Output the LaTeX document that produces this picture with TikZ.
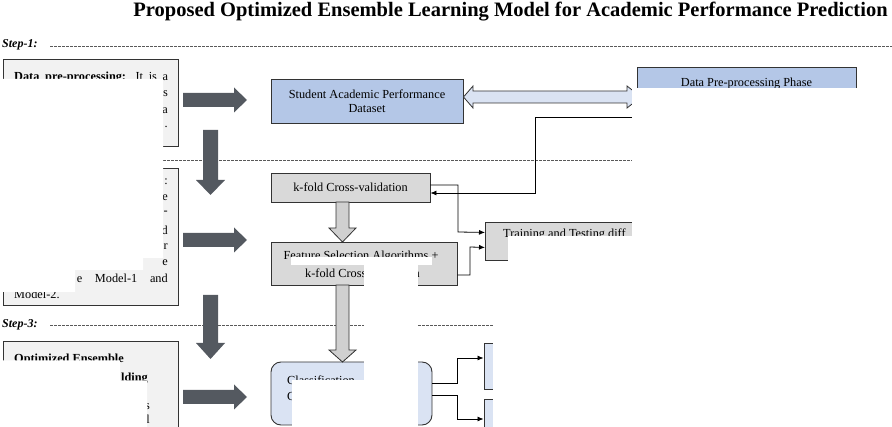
\documentclass[tikz,border=0pt]{standalone}
\usepackage{fontspec}
\setmainfont{Liberation Serif}
\usetikzlibrary{arrows.meta}
\definecolor{darkarr}{HTML}{545960}
\definecolor{lgray}{HTML}{F2F2F2}
\definecolor{mgray}{HTML}{D9D9D9}
\definecolor{agray}{HTML}{D0D0D0}
\definecolor{bluebox}{HTML}{B4C7E7}
\definecolor{lblue}{HTML}{DAE3F3}
\definecolor{edge}{HTML}{333333}
\begin{document}
\begin{tikzpicture}[x=1pt,y=-1pt,
  font=\fontsize{12.3}{14}\selectfont,
  box/.style={draw=edge, line width=0.9pt, inner sep=0pt},
  txt/.style={inner sep=0pt},
  conn/.style={draw=black, line width=0.8pt, -{Latex[length=6pt,width=5pt]}},
  steplbl/.style={font=\fontsize{12}{14}\selectfont\bfseries\itshape, anchor=west, inner sep=0pt},
  sepline/.style={draw=gray!70!black, dash pattern=on 2.5pt off 1.5pt, line width=0.6pt},
  maskfill/.style={fill=white}]
\useasboundingbox (0,0) rectangle (892,427);

% title
\node[txt, font=\fontsize{20.5}{24}\selectfont\bfseries] (title) at (510.5,12) {Proposed Optimized Ensemble Learning Model for Academic Performance Prediction};

% step separators
\node[steplbl] (s1) at (2,45) {Step-1:};
\draw[sepline] (50,46) -- (892,46);
\draw[sepline] (163,160) -- (892,160);
\node[steplbl] (s3) at (2,325) {Step-3:};
\draw[sepline] (50,325) -- (892,325);

% left boxes
\node[box, fill=lgray, minimum width=175, minimum height=87] (bA) at (90.5,102.5) {};
\node[box, fill=lgray, minimum width=175, minimum height=137] (bB) at (90.5,236.5) {};
\node[box, fill=lgray, minimum width=175, minimum height=110, anchor=north west] (bC) at (3,341.5) {};

% right side boxes
\node[box, fill=bluebox, minimum width=192, minimum height=44, align=center] (ds) at (367,101)
  {Student Academic Performance\\Dataset};
\node[box, fill=bluebox, minimum width=219, minimum height=100] (E) at (746.5,117) {};
\node[txt] (Et) at (746.5,83.5) {Data Pre-processing Phase};
\node[box, fill=mgray, minimum width=159, minimum height=29] (kf) at (350.5,187.5) {k-fold Cross-validation};
\node[box, fill=mgray, minimum width=186, minimum height=43] (fs) at (364,263.5) {};
\node[txt] (fs1) at (361,257) {Feature Selection Algorithms +};
\node[txt, anchor=west] (fs2) at (305,273) {k-fold Cross-validation};
\node[box, fill=mgray, minimum width=235, minimum height=38, anchor=north west] (tr) at (485,222) {};
\node[txt, anchor=west] (trt) at (503,234) {Training and Testing diff};
\node[box, fill=lblue, rounded corners=10pt, minimum width=161, minimum height=63] (cl) at (351.5,393.5) {};
\node[txt, anchor=west] (cl1) at (287,380) {Classification};
\node[txt, anchor=west] (cl2) at (287,396) {C};
\node[box, fill=lblue, minimum width=76, minimum height=46] (r1) at (522,366) {};
\node[box, fill=lblue, minimum width=76, minimum height=46] (r2) at (522,422) {};

% dark block arrows
\fill[darkarr] (183,93) -- (234,93) -- (234,87.5) -- (247,100) -- (234,112.5) -- (234,107) -- (183,107) -- cycle;
\fill[darkarr] (183,233) -- (234,233) -- (234,227.5) -- (247,240) -- (234,252.5) -- (234,247) -- (183,247) -- cycle;
\fill[darkarr] (183,390) -- (234,390) -- (234,384.5) -- (247,397) -- (234,409.5) -- (234,404) -- (183,404) -- cycle;
\fill[darkarr] (203,130) -- (218,130) -- (218,180) -- (225,180) -- (210.5,195) -- (196,180) -- (203,180) -- cycle;
\fill[darkarr] (203,295) -- (218,295) -- (218,343) -- (225,343) -- (210.5,359) -- (196,343) -- (203,343) -- cycle;

% gray hollow arrows
\filldraw[fill=agray, draw=edge, line width=0.8pt] (336,202) -- (349,202) -- (349,228) -- (356,228) -- (342.5,242) -- (329,228) -- (336,228) -- cycle;
\filldraw[fill=agray, draw=edge, line width=0.8pt] (336,285) -- (349,285) -- (349,350) -- (356,350) -- (342.5,362) -- (329,350) -- (336,350) -- cycle;

% double arrow dataset <-> phase
\filldraw[fill=lblue, draw=edge, line width=0.8pt] (463.5,97) -- (473,86) -- (473,91) -- (627,91) -- (627,86) -- (641,97) -- (627,108) -- (627,103) -- (473,103) -- (473,108) -- cycle;

% connectors
\draw[conn] (E.west) -- (535,117) -- (535,193) -- ([yshift=-5.5pt]kf.east);
\draw[conn] ([yshift=2.5pt]kf.east) -- (458,185) -- (458,232) -- ([yshift=9pt]tr.west);
\draw[conn] ([yshift=-11.5pt]fs.east) -- (470,275) -- (470,247) -- ([yshift=-6pt]tr.west);
\draw[conn] ([yshift=10.5pt]cl.east) -- (457,383) -- (457,358) -- ([yshift=8pt]r1.west);
\draw[conn] ([yshift=-1.5pt]cl.east) -- (457,395) -- (457,419) -- ([yshift=3pt]r2.west);

% left box texts
\node[txt, anchor=west] (a1) at (14,78) {\makebox[154pt][s]{\textbf{Data pre-processing:} It is a}};
\node[txt, anchor=east] (a2) at (168,94) {s};
\node[txt, anchor=east] (a3) at (168,111) {a};
\node[txt, anchor=east] (a4) at (168,127) {.};
\node[txt, anchor=east] (b1) at (168,182) {:};
\node[txt, anchor=east] (b2) at (168,198) {e};
\node[txt, anchor=east] (b3) at (168,213) {-};
\node[txt, anchor=east] (b4) at (168,230) {d};
\node[txt, anchor=east] (b5) at (168,247) {r};
\node[txt, anchor=east] (b6) at (168,263) {e};
\node[txt, anchor=east] (b7) at (168,278) {\makebox[91pt][s]{e Model-1 and}};
\node[txt, anchor=west] (b8) at (14,294.5) {Model-2.};
\node[txt, anchor=west] (c1) at (14,360) {\textbf{Optimized Ensemble}};
\node[txt, anchor=east] (c2) at (148,379) {\textbf{lding}};
\node[txt, anchor=east] (c3) at (150,407) {s};
\node[txt, anchor=east] (c4) at (150,419) {l};

% white occluded regions of the reference
\fill[maskfill] (0,79) -- (163,79) -- (163,258) -- (143,258) -- (143,270) -- (75,270) -- (75,292) -- (0,292) -- cycle;
\fill[maskfill] (0,360.5) -- (120,360.5) -- (120,380.5) -- (147,380.5) -- (147,427) -- (0,427) -- cycle;
\fill[maskfill] (632,88) rectangle (892,427);
\fill[maskfill] (508,236) rectangle (632,427);
\fill[maskfill] (493,262) rectangle (508,427);
\fill[maskfill] (291,257) rectangle (432,265.5);
\fill[maskfill] (364,265.5) rectangle (418,427);
\fill[maskfill] (292,380) rectangle (418,427);
\end{tikzpicture}
\end{document}
